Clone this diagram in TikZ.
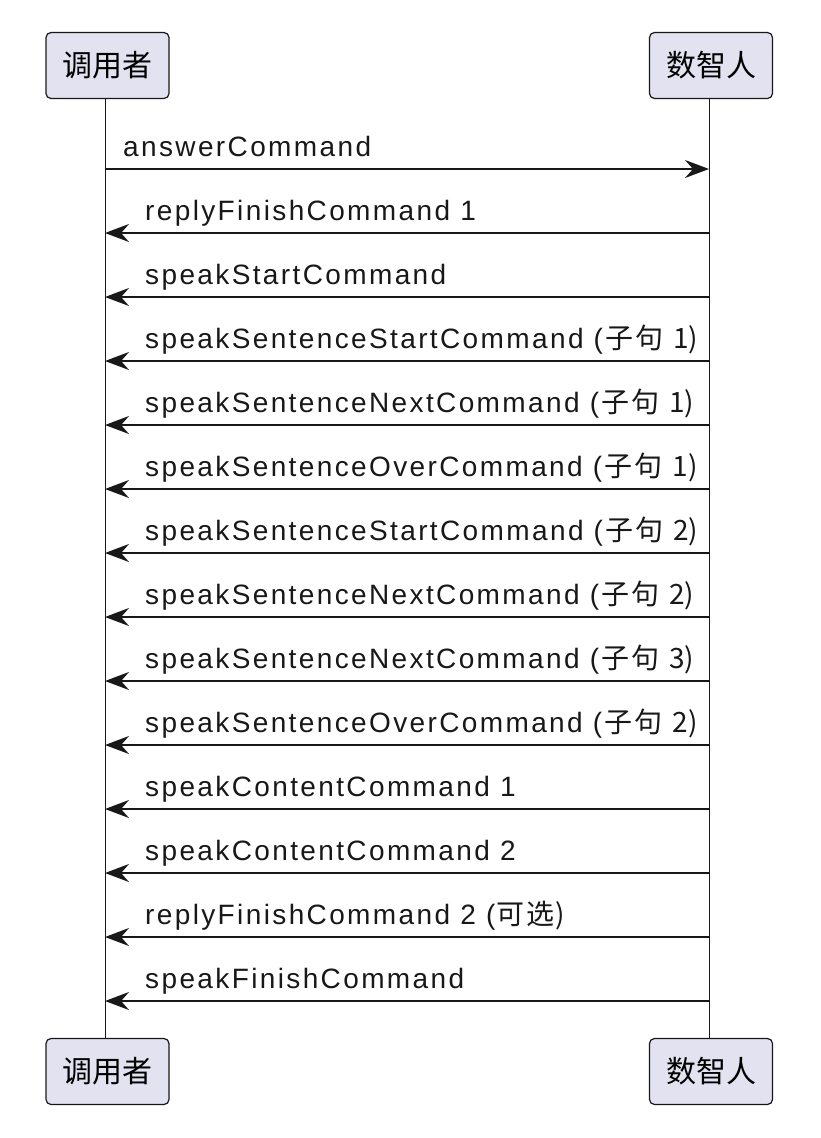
\documentclass[tikz,border=0pt]{standalone}
\usepackage{fontspec}
\setmainfont{Liberation Sans}[LetterSpace=8.5]
\newfontfamily\cjk{Noto Sans CJK SC}
\usetikzlibrary{arrows.meta}
\definecolor{boxfill}{HTML}{E2E2F0}
\definecolor{edge}{HTML}{181818}
\newcommand{\ziju}[1]{(\kern2pt\cjk{子\kern2pt句}\kern4pt\ #1)}

\begin{document}
\begin{tikzpicture}[x=1pt, y=-1pt,
    actor/.style={draw=edge, fill=boxfill, rounded corners=5pt, line width=1.2pt,
        minimum width=123pt, minimum height=66pt, inner sep=0pt,
        font=\fontsize{30}{32}\selectfont\cjk},
    life/.style={draw=edge, line width=1pt},
    msg/.style={draw=edge, line width=1.8pt, -{Stealth[length=24pt,width=18pt,inset=8pt]}},
    lbl/.style={anchor=base west, inner sep=0pt, text=edge, font=\fontsize{28}{30}\selectfont}]
    \useasboundingbox (0,0) rectangle (821,1138);

    % Participants
    \node[actor] (callerTop) at (107.5,65.5) {调用者};
    \node[actor] (humanTop) at (711,65.5) {数智人};
    \node[actor] (callerBot) at (107.5,1071.5) {调用者};
    \node[actor] (humanBot) at (711,1071.5) {数智人};

    % Lifelines
    \coordinate (caller) at ([xshift=-2.5pt]callerTop.south);
    \coordinate (human) at ([xshift=-2pt]humanTop.south);
    \draw[life] (caller) -- (caller |- callerBot.north);
    \draw[life] (human) -- (human |- humanBot.north);

    % Request
    \node[lbl] (ask) at (123,156) {answerCommand};
    \draw[msg] (caller |- 0,169) -- (human |- 0,169);

    % Replies
    \foreach \y/\txt [count=\i] in {
        233/{replyFinishCommand 1},
        297/{speakStartCommand},
        361/{speakSentenceStartCommand \ziju{1}},
        425/{speakSentenceNextCommand \ziju{1}},
        489/{speakSentenceOverCommand \ziju{1}},
        553/{speakSentenceStartCommand \ziju{2}},
        617/{speakSentenceNextCommand \ziju{2}},
        681/{speakSentenceNextCommand \ziju{3}},
        745/{speakSentenceOverCommand \ziju{2}},
        809/{speakContentCommand 1},
        873/{speakContentCommand 2},
        937/{replyFinishCommand 2 (\kern1pt\cjk{可\kern2pt选}\kern1pt)},
        1001/{speakFinishCommand}}
    {
        \node[lbl] (reply\i) at (145,\y-13) {\txt};
        \draw[msg] (human |- 0,\y) -- (caller |- 0,\y);
    }
\end{tikzpicture}
\end{document}
